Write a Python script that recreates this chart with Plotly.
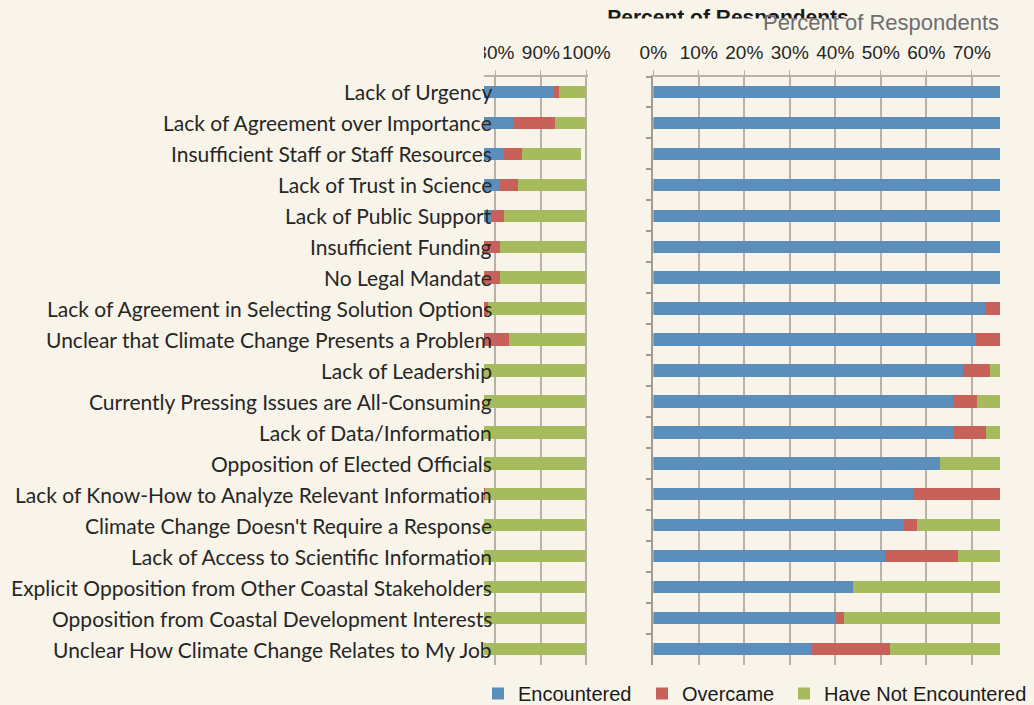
import plotly.graph_objects as go

categories = [
    "Lack of Urgency",
    "Lack of Agreement over Importance",
    "Insufficient Staff or Staff Resources",
    "Lack of Trust in Science",
    "Lack of Public Support",
    "Insufficient Funding",
    "No Legal Mandate",
    "Lack of Agreement in Selecting Solution Options",
    "Unclear that Climate Change Presents a Problem",
    "Lack of Leadership",
    "Currently Pressing Issues are All-Consuming",
    "Lack of Data/Information",
    "Opposition of Elected Officials",
    "Lack of Know-How to Analyze Relevant Information",
    "Climate Change Doesn't Require a Response",
    "Lack of Access to Scientific Information",
    "Explicit Opposition from Other Coastal Stakeholders",
    "Opposition from Coastal Development Interests",
    "Unclear How Climate Change Relates to My Job",
]
encountered = [92.9, 83.9, 82.0, 81.0, 79.0, 77.5, 76.5, 73.0, 71.0, 68.1,
               65.9, 65.9, 63.0, 57.1, 55.1, 51.0, 44.0, 40.1, 34.9]
overcame = [1.0, 9.1, 3.9, 3.9, 2.9, 3.5, 4.5, 5.3, 12.0, 6.0,
            5.2, 7.2, 0.0, 20.6, 2.9, 16.0, 0.0, 1.9, 17.1]
not_encountered = [6.1, 7.0, 13.0, 15.1, 18.1, 19.0, 19.0, 21.7, 17.0, 25.9,
                   28.9, 26.9, 37.0, 22.3, 42.0, 33.0, 56.0, 58.0, 48.0]

series_names = ["Encountered", "Overcame", "Have Not Encountered"]
series_vals = [encountered, overcame, not_encountered]
colors = ["#5b8ebb", "#c8615a", "#a6bb5e"]

left_ticks = [80, 90, 100]
right_ticks = [0, 10, 20, 30, 40, 50, 60, 70]
title_text = "Percent of Respondents"

W, H = 1034, 705
BG = "#f8f4e9"
GRID = "#b9b3a7"

def px_x(p):
    return p / W

def px_y(p):
    return 1 - p / H

fig = go.Figure()
legends = ["legend", "legend2", "legend3"]
for name, vals, col, lg in zip(series_names, series_vals, colors, legends):
    fig.add_trace(go.Bar(y=categories, x=vals, name=name, orientation="h",
                         marker=dict(color=col, line=dict(width=0)),
                         xaxis="x", yaxis="y", showlegend=False, width=0.4))
    fig.add_trace(go.Bar(y=categories, x=vals, name=name, orientation="h",
                         marker=dict(color=col, line=dict(width=0)),
                         xaxis="x2", yaxis="y2", showlegend=True, legend=lg,
                         width=0.4))

# helper trace for the clipped title axis
fig.add_trace(go.Scatter(x=[0], y=[0], mode="none", xaxis="x3", yaxis="y3",
                         showlegend=False, hoverinfo="skip"))

ydom = [px_y(664.5), px_y(76.5)]
tickfont = dict(family="Liberation Sans, Arial", size=19, color="#262626")

fig.update_layout(
    width=W, height=H,
    margin=dict(l=0, r=0, t=0, b=0, autoexpand=False),
    paper_bgcolor=BG, plot_bgcolor=BG,
    barmode="stack",
    xaxis=dict(domain=[px_x(484), px_x(587.5)], range=[77.5, 100.25],
               side="top", tickvals=left_ticks,
               ticktext=[f"{t}%" for t in left_ticks],
               tickfont=tickfont, ticks="outside", ticklen=5, tickcolor=GRID,
               showgrid=True, gridcolor=GRID, gridwidth=1.5,
               showline=True, linecolor=GRID, linewidth=1.5,
               zeroline=False, anchor="y", automargin=False,
               ticklabelstandoff=3),
    yaxis=dict(domain=ydom, categoryorder="array", categoryarray=categories,
               autorange="reversed", showticklabels=False, ticks="",
               showgrid=False, zeroline=False, showline=False,
               anchor="x", automargin=False),
    xaxis2=dict(domain=[px_x(653.3), px_x(1000)], range=[0, 76.2],
                side="top", tickvals=right_ticks,
                ticktext=[f"{t}%" for t in right_ticks],
                tickfont=tickfont, ticks="outside", ticklen=5, tickcolor=GRID,
                showgrid=True, gridcolor=GRID, gridwidth=1.5,
                showline=True, linecolor=GRID, linewidth=1.5,
                zeroline=False, anchor="y2", automargin=False,
                ticklabelstandoff=3),
    yaxis2=dict(domain=ydom, categoryorder="array", categoryarray=categories,
                autorange="reversed", showticklabels=False,
                ticks="outside", ticklen=6, tickcolor="#a29c90",
                tickson="boundaries", tickwidth=1.5,
                showgrid=False, zeroline=False,
                showline=True, linecolor="#a29c90", linewidth=1.5,
                anchor="x2", automargin=False),
    xaxis3=dict(domain=[0, 1], range=[0, W], anchor="free",
                position=px_y(28), side="top",
                tickvals=[728], ticktext=[title_text],
                tickfont=dict(family="Liberation Sans, Arial", size=21,
                              color="#1a1a1a", weight="bold"),
                ticks="", showgrid=False, zeroline=False, showline=False,
                automargin=False, ticklabelstandoff=0),
    yaxis3=dict(domain=[px_y(34), px_y(30)], visible=False, anchor="x3",
                automargin=False),
    bargap=0.6,
    showlegend=True,
)

legend_common = dict(orientation="h", yanchor="middle", xanchor="left",
                     y=px_y(693.5), bgcolor="rgba(0,0,0,0)",
                     font=dict(family="Liberation Sans, Arial", size=20,
                               color="#1a1a1a"),
                     itemwidth=30)
fig.update_layout(
    legend=dict(x=px_x(478), **legend_common),
    legend2=dict(x=px_x(642), **legend_common),
    legend3=dict(x=px_x(784), **legend_common),
)

# cover shapes (clip cut-off text like the original)
fig.add_shape(type="rect", xref="paper", yref="paper",
              x0=0, x1=px_x(484), y0=px_y(72), y1=px_y(30),
              fillcolor=BG, line=dict(width=0), layer="above")
fig.add_shape(type="rect", xref="paper", yref="paper",
              x0=px_x(580), x1=1, y0=px_y(34), y1=px_y(18.5),
              fillcolor=BG, line=dict(width=0), layer="above")

# category labels drawn over the bars
for cat in categories:
    fig.add_annotation(x=px_x(494), xref="paper", y=cat, yref="y",
                       text=cat, showarrow=False, xanchor="right",
                       yanchor="middle",
                       font=dict(family="Lato", size=21, color="#262626"))

# faint duplicated title
fig.add_annotation(x=px_x(881), xref="paper", y=px_y(22), yref="paper",
                   text=title_text, showarrow=False, xanchor="center",
                   yanchor="middle",
                   font=dict(family="Liberation Sans, Arial", size=22,
                             color="#6e6e6e"))

fig.write_html(
    "out.html",
    config={"displayModeBar": False},
    post_script="document.body.style.margin='0';"
                "document.body.style.backgroundColor='#f8f4e9';",
)
